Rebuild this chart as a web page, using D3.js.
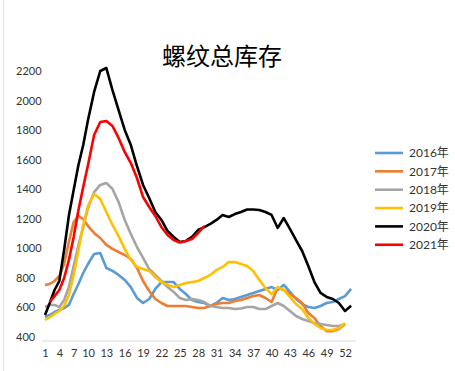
<!DOCTYPE html>
<html>
<head>
<meta charset="utf-8">
<script src="https://cdn.jsdelivr.net/npm/d3@7"></script>
<style>
  body { margin: 0; background: #fff; }
  text { font-family: Lato, "Noto Sans CJK SC", sans-serif; fill: #333; }
</style>
</head>
<body>
<script>

const weeks = d3.range(1, 54);
const weekTicks = [1, 4, 7, 10, 13, 16, 19, 22, 25, 28, 31, 34, 37, 40, 43, 46, 49, 52];
const yTicks = [400, 600, 800, 1000, 1200, 1400, 1600, 1800, 2000, 2200];

const years = ["2016年", "2017年", "2018年", "2019年", "2020年", "2021年"];
const colors = ["#5B9BD5", "#ED7D31", "#A5A5A5", "#FFC000", "#000000", "#FF0000"];

const s2016 = [535,549,569,583,596,617,691,759,833,894, 962,968,867,847,820,786,738,664,630,657,
    725,772,772,772,725,691,650,637,630,610, 630,664,650,657,671,684,698,711,725,738,
    718,752,705,657,623,603,596,610,630,637, 657,677,725];
const s2017 = [752,759,779,813,894,1043,1178,1219,1198,1151, 1104,1070,1023,996,975,955,928,867,779,711,
    657,630,610,610,610,610,603,596,596,610, 623,630,630,644,650,664,677,684,664,637,
    732,718,691,664,630,562,529,474,440,440, 454,488];
const s2018 = [603,617,617,603,650,738,880,1023,1144,1273, 1381,1429,1442,1402,1313,1192,1097,1009,935,860,
    820,779,738,705,664,650,657,650,637,610, 603,596,596,589,593,603,603,589,589,610,
    630,610,576,542,522,508,495,488,481,474, 474,488];
const s2019 = [515,535,556,576,610,684,820,989,1158,1287, 1368,1334,1246,1158,1083,996,921,874,860,847,
    806,772,752,738,752,765,772,779,799,820, 853,874,908,908,894,880,847,786,732,691,
    738,718,671,623,589,529,488,461,447,447, 461,495];
const s2020 = [549,630,718,779,989,1222,1395,1564,1699,1868, 2058,2200,2220,2071,1936,1801,1699,1557,1429,1341,
    1246,1192,1117,1077,1043,1050,1077,1124,1144,1165, 1192,1226,1212,1232,1246,1263,1263,1259,1246,1226,
    1138,1205,1131,1056,982,880,772,698,671,657, 630,576,612];
const s2021 = [null,637,677,718,799,921,1077,1259,1415,1564, 1767,1855,1862,1828,1747,1652,1577,1476,1347,1280,
    1219,1144,1090,1056,1040,1050,1063,1104,1151];

const series = [s2016, s2017, s2018, s2019, s2020, s2021];

const w = 455;
const h = 371;

const svg = d3.select("body")
    .append("svg")
    .attr("width", w)
    .attr("height", h);

let x = d3.scaleLinear()
    .domain([1, 10, 52])
    .range([45, 88, 345]);

let y = d3.scaleLinear()
    .domain([400, 2200])
    .range([337, 71]);

// faint frame edge on the left
svg.append("line")
    .attr("x1", 3.5).attr("x2", 3.5)
    .attr("y1", 0).attr("y2", h)
    .attr("stroke", "#e6e6e6");

svg.append("text")
    .attr("x", 222)
    .attr("y", 65)
    .attr("text-anchor", "middle")
    .style("font-family", "'Noto Sans CJK SC', sans-serif")
    .style("font-size", "24px")
    .style("fill", "#000")
    .text("螺纹总库存");

let xAxis = d3.axisBottom(x)
    .tickValues(weekTicks)
    .tickFormat(d3.format("d"))
    .tickSize(0)
    .tickPadding(8);

let gx = svg.append("g")
    .attr("transform", `translate(0,${y.range()[0] + 4})`)
    .call(xAxis);
gx.select(".domain")
    .attr("d", `M${x(1) - 3},0H${x(53) + 5}`)
    .attr("stroke", "#d9d9d9");
gx.selectAll("text")
    .style("font-size", "11px")
    .style("fill", "#333");

let yAxis = d3.axisLeft(y)
    .tickValues(yTicks)
    .tickFormat(d3.format("d"))
    .tickSize(0);

let gy = svg.append("g")
    .attr("transform", "translate(16,0)")
    .call(yAxis);
gy.select(".domain").remove();
gy.selectAll("text")
    .attr("x", 0)
    .attr("text-anchor", "start")
    .style("font-size", "11px")
    .style("fill", "#333");

let line = d3.line()
    .defined(d => d != null)
    .x((d, i) => x(weeks[i]))
    .y(d => y(d));

series.forEach(function(s, i) {
    svg.append("path")
        .datum(s)
        .attr("fill", "none")
        .attr("stroke", colors[i])
        .attr("stroke-width", 2.6)
        .attr("stroke-linejoin", "round")
        .attr("d", line);
});

let legend = svg.append("g")
    .attr("transform", "translate(375,153)");

years.forEach(function(name, i) {
    let g = legend.append("g")
        .attr("transform", `translate(0,${i * 18.35})`);
    g.append("line")
        .attr("x1", 0).attr("x2", 28)
        .attr("stroke", colors[i])
        .attr("stroke-width", 2.6);
    g.append("text")
        .attr("x", 34)
        .attr("dy", "0.35em")
        .style("font-size", "12px")
        .text(name);
});

</script>
</body>
</html>
